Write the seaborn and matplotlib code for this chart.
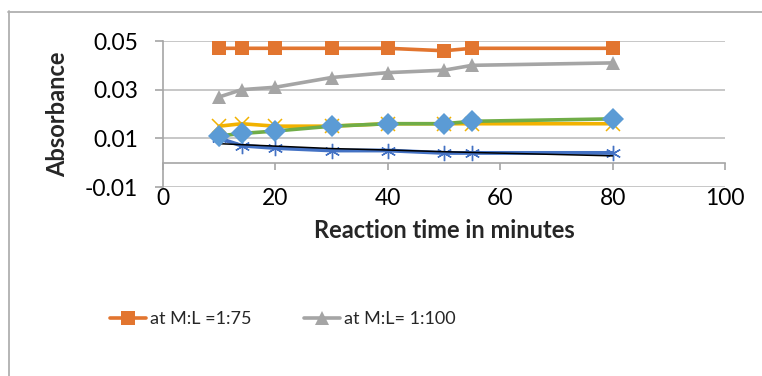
import matplotlib
matplotlib.use("Agg")
import matplotlib.pyplot as plt
from matplotlib.lines import Line2D
import seaborn as sns
import pandas as pd

# Reaction time (minutes) at which absorbance was measured
time_min = [10, 14, 20, 30, 40, 50, 55, 80]

# Absorbance readings for each run
abs_1_75 = [0.047, 0.047, 0.047, 0.047, 0.047, 0.046, 0.047, 0.047]
abs_1_100 = [0.027, 0.030, 0.031, 0.035, 0.037, 0.038, 0.040, 0.041]
abs_gold = [0.015, 0.016, 0.015, 0.015, 0.016, 0.016, 0.016, 0.016]
abs_star = [0.010, 0.007, 0.006, 0.005, 0.005, 0.004, 0.004, 0.004]
abs_diamond = [0.011, 0.012, 0.013, 0.015, 0.016, 0.016, 0.017, 0.018]
abs_black = [0.0078, 0.0074, 0.0068, 0.0058, 0.0052, 0.0045, 0.0042, 0.0028]

legend_labels = ["at M:L =1:75", "at M:L= 1:100"]
x_ticks = [0, 20, 40, 60, 80, 100]
y_ticks = [-0.01, 0.01, 0.03, 0.05]
y_tick_labels = ["-0.01", "0.01", "0.03", "0.05"]

sns.set_theme(style="white")
plt.rcParams["font.family"] = ["Lato", "DejaVu Sans"]

W, H = 762, 376
fig = plt.figure(figsize=(W / 100, H / 100), dpi=100)
ax = fig.add_axes([163 / W, 1 - 187 / H, (725 - 163) / W, (187 - 41) / H])

df = pd.DataFrame({
    "t": time_min,
    "a75": abs_1_75,
    "a100": abs_1_100,
    "gold": abs_gold,
    "star": abs_star,
    "dia": abs_diamond,
    "black": abs_black,
})

ORANGE = "#E2752F"
GRAY = "#A5A5A5"
GOLD = "#F2B200"
DBLUE = "#4472C4"
LBLUE = "#5B9BD5"
GREEN = "#70AD47"

sns.lineplot(data=df, x="t", y="a75", ax=ax, color=ORANGE, lw=2.6,
             marker="s", markersize=10, markeredgewidth=0, zorder=3,
             label=legend_labels[0])
h75 = ax.lines[-1]
sns.lineplot(data=df, x="t", y="a100", ax=ax, color=GRAY, lw=2.6,
             marker="^", markersize=10.5, markeredgewidth=0, zorder=3,
             label=legend_labels[1])
h100 = ax.lines[-1]
sns.lineplot(data=df, x="t", y="star", ax=ax, color=DBLUE, lw=2.8,
             marker=(6, 2, 0), markersize=11, markeredgewidth=1.0,
             markeredgecolor=DBLUE, zorder=3, legend=False)
sns.lineplot(data=df, x="t", y="gold", ax=ax, color=GOLD, lw=2.6,
             marker="x", markersize=10, markeredgewidth=1.1,
             markeredgecolor=GOLD, zorder=3, legend=False)
sns.lineplot(data=df, x="t", y="dia", ax=ax, color=GREEN, lw=2.6,
             marker="D", markersize=11.5, markerfacecolor=LBLUE,
             markeredgewidth=0, zorder=4, legend=False)
sns.lineplot(data=df, x="t", y="black", ax=ax, color="black", lw=1.1,
             zorder=3.5, legend=False)
if ax.get_legend() is not None:
    ax.get_legend().remove()

ax.set_xlim(0, 100)
ax.set_ylim(-0.01, 0.05)
ax.set_xticks(x_ticks)
ax.set_yticks(y_ticks)
ax.set_yticklabels(y_tick_labels)

AXC = "#A6A6A6"
ax.yaxis.grid(True, color="#BDBDBD", lw=1.2)
ax.xaxis.grid(False)
for s in ["top", "right"]:
    ax.spines[s].set_visible(False)
ax.spines["left"].set_color(AXC)
ax.spines["left"].set_linewidth(1.2)
ax.spines["bottom"].set_position(("data", 0))
ax.spines["bottom"].set_color(AXC)
ax.spines["bottom"].set_linewidth(1.2)

ax.tick_params(axis="x", direction="out", length=5, width=1.2, color=AXC,
               pad=13, labelsize=16.5, labelcolor="black", bottom=True)
ax.tick_params(axis="y", direction="out", length=6, width=1.2, color=AXC,
               pad=12, labelsize=16.5, labelcolor="black", left=True)

ax.set_xlabel("Reaction time in minutes", fontsize=17, fontweight="bold")
ax.set_ylabel("Absorbance", fontsize=17, fontweight="bold")
ax.xaxis.set_label_coords(0.5, -(219 - 187) / 146)
ax.yaxis.set_label_coords((69 - 163) / 562, 0.5)

fig.legend(handles=[h75, h100], labels=legend_labels, loc="center left",
           bbox_to_anchor=(110 / W, 1 - 319 / H), ncol=2, frameon=False,
           fontsize=13, handlelength=2.0, handletextpad=0.22,
           columnspacing=2.9, borderpad=0, borderaxespad=0)

# outer chart border (left and top edges)
fig.add_artist(Line2D([8.5 / W, 8.5 / W], [0, 1 - 11 / H], transform=fig.transFigure,
                      color="#B0B0B0", lw=1.3))
fig.add_artist(Line2D([8 / W, 1], [1 - 11.5 / H, 1 - 11.5 / H], transform=fig.transFigure,
                      color="#B0B0B0", lw=1.3))

fig.savefig("out.png", dpi=100, facecolor="white")
